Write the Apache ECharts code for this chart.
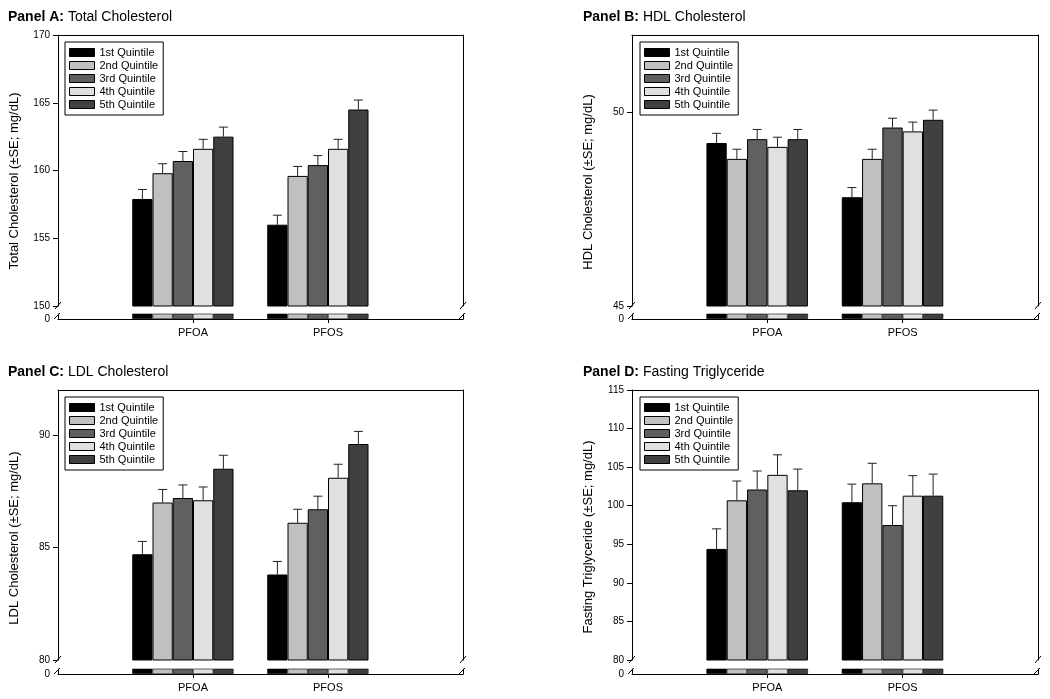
<!DOCTYPE html>
<html><head><meta charset="utf-8">
<script src="https://cdn.jsdelivr.net/npm/echarts@6/dist/echarts.min.js"></script>
<style>html,body{margin:0;padding:0;background:#fff}#c{width:1050px;height:699px}</style>
</head><body><div id="c"></div>
<script>
// ---------------- DATA ----------------
const categories = ['PFOA', 'PFOS'];
const quintiles = ['1st Quintile', '2nd Quintile', '3rd Quintile', '4th Quintile', '5th Quintile'];
// each row = one quintile: [PFOA, PFOS]
const tcMean  = [[157.9, 156.0], [159.8, 159.6], [160.7, 160.4], [161.6, 161.6], [162.5, 164.5]];
const tcSE    = [[0.7, 0.7], [0.7, 0.7], [0.7, 0.7], [0.7, 0.7], [0.7, 0.7]];
const hdlMean = [[49.21, 47.81], [48.80, 48.80], [49.31, 49.61], [49.11, 49.51], [49.31, 49.81]];
const hdlSE   = [[0.25, 0.25], [0.25, 0.25], [0.25, 0.24], [0.25, 0.24], [0.25, 0.25]];
const ldlMean = [[84.7, 83.8], [87.0, 86.1], [87.2, 86.7], [87.1, 88.1], [88.5, 89.6]];
const ldlSE   = [[0.57, 0.58], [0.58, 0.6], [0.58, 0.58], [0.59, 0.6], [0.6, 0.56]];
const tgMean  = [[94.4, 100.45], [100.7, 102.9], [102.1, 97.5], [104.0, 101.3], [102.0, 101.3]];
const tgSE    = [[2.6, 2.35], [2.5, 2.6], [2.4, 2.5], [2.6, 2.6], [2.75, 2.8]];
const tcTicks  = [150, 155, 160, 165, 170];
const hdlTicks = [45, 50];
const ldlTicks = [80, 85, 90];
const tgTicks  = [80, 85, 90, 95, 100, 105, 110, 115];
const tcRange  = [150, 170];
const hdlRange = [45, 52];
const ldlRange = [80, 92];
const tgRange  = [80, 115];
const panelLetters = ['A', 'B', 'C', 'D'];
const panelNames = ['Total Cholesterol', 'HDL Cholesterol', 'LDL Cholesterol', 'Fasting Triglyceride'];
const axisNames = ['Total Cholesterol (\u00b1SE; mg/dL)', 'HDL Cholesterol (\u00b1SE; mg/dL)',
                   'LDL Cholesterol (\u00b1SE; mg/dL)', 'Fasting Triglyceride (\u00b1SE; mg/dL)'];
const zeroLabel = [0];

// ---------------- STYLE / LAYOUT ----------------
const FONT = 'Liberation Sans, Arial, Helvetica, sans-serif';
const barColors = ['#000000', '#c0c0c0', '#606060', '#e0e0e0', '#404040'];
const panels = [
  {mean: tcMean, se: tcSE, ticks: tcTicks, range: tcRange,
   L: 58, R: 463, T: 35, MB: 306, ST: 314, SB: 319, tx: 8, ty: 10, lx: 65, ly: 42, nx: 14, ny: 181},
  {mean: hdlMean, se: hdlSE, ticks: hdlTicks, range: hdlRange,
   L: 632, R: 1038, T: 35, MB: 306, ST: 314, SB: 319, tx: 583, ty: 10, lx: 640, ly: 42, nx: 588, ny: 182},
  {mean: ldlMean, se: ldlSE, ticks: ldlTicks, range: ldlRange,
   L: 58, R: 463, T: 390, MB: 660, ST: 669, SB: 674, tx: 8, ty: 365, lx: 65, ly: 397, nx: 14, ny: 538},
  {mean: tgMean, se: tgSE, ticks: tgTicks, range: tgRange,
   L: 632, R: 1038, T: 390, MB: 660, ST: 669, SB: 674, tx: 583, ty: 365, lx: 640, ly: 397, nx: 588, ny: 537}
];
const xCats = [''].concat(categories).concat(['']);
const isCat = (i, v) => v !== '';
const BARW = '15%';

const grid = [], xAxis = [], yAxis = [], series = [], legend = [], title = [], graphic = [];
const black = {color: '#000', width: 1};

panels.forEach((p, pi) => {
  grid.push({left: p.L, top: p.T, width: p.R - p.L, height: p.MB - p.T, containLabel: false});
  grid.push({left: p.L, top: p.ST, width: p.R - p.L, height: p.SB - p.ST, containLabel: false});
  const gm = 2 * pi, gs = 2 * pi + 1;
  xAxis.push({gridIndex: gm, type: 'category', data: xCats, boundaryGap: false, position: 'top',
    axisLine: {show: true, onZero: false, lineStyle: black}, axisTick: {show: false}, axisLabel: {show: false}, splitLine: {show: false}});
  xAxis.push({gridIndex: gs, type: 'category', data: xCats, boundaryGap: false, position: 'bottom',
    axisLine: {show: true, onZero: false, lineStyle: black},
    axisTick: {show: true, interval: isCat, length: 4, lineStyle: black},
    axisLabel: {show: true, interval: isCat, fontSize: 11, color: '#000', margin: 8, fontFamily: FONT},
    splitLine: {show: false}});
  // main left
  yAxis.push({gridIndex: gm, type: 'value', min: p.range[0], max: p.range[1], position: 'left',
    axisLine: {show: true, onZero: false, lineStyle: black},
    axisTick: {show: true, length: 5, customValues: p.ticks, lineStyle: black},
    axisLabel: {show: true, customValues: p.ticks, fontSize: 10, color: '#000', margin: 8, fontFamily: FONT},
    splitLine: {show: false}});
  // main right
  yAxis.push({gridIndex: gm, type: 'value', min: 0, max: 1, position: 'right',
    axisLine: {show: true, onZero: false, lineStyle: black}, axisTick: {show: false}, axisLabel: {show: false}, splitLine: {show: false}});
  // stub left
  yAxis.push({gridIndex: gs, type: 'value', min: 0, max: 1, position: 'left',
    axisLine: {show: true, onZero: false, lineStyle: black}, axisTick: {show: false},
    axisLabel: {show: true, customValues: zeroLabel, fontSize: 10, color: '#000', margin: 8, fontFamily: FONT},
    splitLine: {show: false}});
  // stub right
  yAxis.push({gridIndex: gs, type: 'value', min: 0, max: 1, position: 'right',
    axisLine: {show: true, onZero: false, lineStyle: black}, axisTick: {show: false}, axisLabel: {show: false}, splitLine: {show: false}});

  quintiles.forEach((q, qi) => {
    const d = [null, p.mean[qi][0], p.mean[qi][1], null];
    series.push({type: 'bar', name: q, xAxisIndex: gm, yAxisIndex: 4 * pi, data: d, barWidth: BARW, barGap: '0%',
      clip: true, silent: true, itemStyle: {color: barColors[qi], borderColor: '#000', borderWidth: 1}});
    series.push({type: 'bar', name: q, xAxisIndex: gs, yAxisIndex: 4 * pi + 2, data: d, barWidth: BARW, barGap: '0%',
      clip: true, silent: true, itemStyle: {color: barColors[qi], borderColor: '#000', borderWidth: 0.6}});
  });
  // empty sixth slot (original plot reserves a sixth bar position)
  series.push({type: 'bar', name: '_slot', xAxisIndex: gm, yAxisIndex: 4 * pi, data: [], barWidth: BARW, barGap: '0%'});
  series.push({type: 'bar', name: '_slot', xAxisIndex: gs, yAxisIndex: 4 * pi + 2, data: [], barWidth: BARW, barGap: '0%'});

  // error bars
  const ed = [];
  quintiles.forEach((q, qi) => categories.forEach((c, ci) => ed.push([c, qi, p.mean[qi][ci], p.se[qi][ci]])));
  series.push({type: 'custom', xAxisIndex: gm, yAxisIndex: 4 * pi, silent: true, z: 5,
    encode: {x: 0, y: 2}, data: ed,
    renderItem: (params, api) => {
      const qi = api.value(1), m = api.value(2), s = api.value(3);
      const bw = api.size([1, 0])[0] * 0.15;
      const p0 = api.coord([api.value(0), m]);
      const p1 = api.coord([api.value(0), m + s]);
      const x = p0[0] + (qi - 2.5) * bw;
      const st = {stroke: '#222', lineWidth: 1};
      return {type: 'group', children: [
        {type: 'line', shape: {x1: x, y1: p0[1], x2: x, y2: p1[1]}, style: st},
        {type: 'line', shape: {x1: x - 4.5, y1: p1[1], x2: x + 4.5, y2: p1[1]}, style: st}
      ]};
    }});

  legend.push({data: quintiles, left: p.lx, top: p.ly, orient: 'vertical', icon: 'rect',
    itemWidth: 25, itemHeight: 8, itemGap: 2, itemTextGap: 6, selectedMode: false,
    padding: [5, 5, 5, 4], borderColor: '#000', borderWidth: 1, backgroundColor: '#fff',
    itemStyle: {borderColor: '#000', borderWidth: 1},
    textStyle: {fontSize: 11, color: '#000', fontFamily: FONT}});

  title.push({text: '{b|Panel ' + panelLetters[pi] + ':} ' + panelNames[pi], left: p.tx, top: p.ty, padding: 0,
    textStyle: {fontSize: 14, fontWeight: 'normal', color: '#000', fontFamily: FONT,
      rich: {b: {fontSize: 14, fontWeight: 'bold', color: '#000', fontFamily: FONT}}}});

  graphic.push({type: 'text', x: p.nx, y: p.ny, rotation: Math.PI / 2,
    style: {text: axisNames[pi], fontSize: 13, fill: '#000', fontFamily: FONT, align: 'center', verticalAlign: 'middle'}});

  // axis break marks
  [p.L, p.R].forEach(x => {
    graphic.push({type: 'line', shape: {x1: x - 3, y1: p.MB + 3, x2: x + 3, y2: p.MB - 4}, style: {stroke: '#000', lineWidth: 1}});
    graphic.push({type: 'line', shape: {x1: x - 4, y1: p.SB, x2: x + 2, y2: p.ST - 1}, style: {stroke: '#000', lineWidth: 1}});
  });
});

const chart = echarts.init(document.getElementById('c'), null, {renderer: 'canvas'});
chart.setOption({
  animation: false,
  backgroundColor: '#fff',
  textStyle: {fontFamily: FONT},
  title, legend, grid, xAxis, yAxis, series, graphic
});
</script></body></html>
